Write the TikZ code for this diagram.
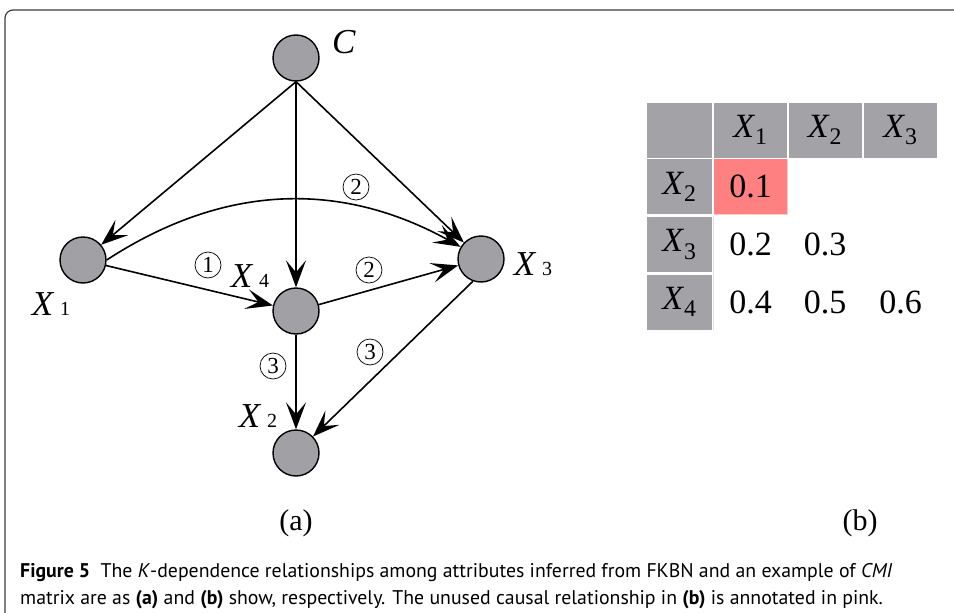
\documentclass[tikz,border=0pt]{standalone}
\usepackage{fontspec}
\setmainfont{Liberation Serif}
\newfontfamily\capfont{PT Sans}
\usepackage{xcolor}
\definecolor{nodegray}{RGB}{161,160,165}
\definecolor{tabgray}{RGB}{163,162,167}
\definecolor{cellpink}{RGB}{255,128,128}
\definecolor{framegray}{RGB}{60,60,60}
\usepackage{tikz}
\usetikzlibrary{
  arrows.meta,
  positioning
}
\tikzset{
  vnode/.style={circle, draw, line width=1.4pt, fill=nodegray,
    minimum size=46pt, inner sep=0pt},
  vlabel/.style={font=\fontsize{35}{38}\selectfont, inner sep=0pt},
  numcirc/.style={circle, draw, line width=0.7pt, minimum size=26pt,
    inner sep=0pt, font=\fontsize{23}{23}\selectfont},
  arr/.style={-{Stealth[length=27pt, width=20pt, inset=12pt]}, line width=1.6pt},
  headcell/.style={fill=tabgray, minimum height=55pt, inner sep=0pt,
    font=\fontsize{34}{38}\selectfont},
  valcell/.style={minimum height=55pt, minimum width=73pt, inner sep=0pt,
    font=\fontsize{34}{38}\selectfont},
}
\newcommand{\Xlab}[1]{\textit{X}\,{\fontsize{20}{22}\selectfont #1}}
\newcommand{\Xsub}[1]{\textit{X}\textsubscript{#1}}

\begin{document}
\begin{tikzpicture}[x=1pt, y=1pt]
  \useasboundingbox (0,0) rectangle (954,-613);
  % Frame
  \draw[line width=1.2pt, framegray, rounded corners=8pt]
    (5,-613) -- (5,-10) -- (954,-10);

  % Network (a)
  \node[vnode] (C)  at (296,-58)  {};
  \node[vnode] (X1) at (83,-260)  {};
  \node[vnode] (X3) at (481,-259) {};
  \node[vnode] (X4) at (296,-311) {};
  \node[vnode] (X2) at (296,-453) {};

  \node[vlabel] (lC)  at (344,-42)  {\textit{C}};
  \node[vlabel] (lX1) at (51,-304)  {\Xlab{1}};
  \node[vlabel] (lX3) at (533,-264) {\Xlab{3}};
  \node[vlabel] (lX4) at (250,-276) {\Xlab{4}};
  \node[vlabel] (lX2) at (258,-416) {\Xlab{2}};

  \foreach \t in {X1, X4, X3} {
    \draw[arr] (C.south) -- (\t);
  }
  \draw[arr] (X1.east) to[bend left=31] (X3);
  \draw[arr] (X1) -- (X4);
  \draw[arr] (X4) -- (X3);
  \draw[arr] (X4) -- (X2);
  \draw[arr] (X3.250) -- (X2);

  % Order of the edges
  \node[numcirc] (n1)  at (208,-265) {1};
  \node[numcirc] (n2a) at (356,-187) {2};
  \node[numcirc] (n2b) at (369,-270) {2};
  \node[numcirc] (n3a) at (273,-366) {3};
  \node[numcirc] (n3b) at (370,-352) {3};

  % CMI matrix (b)
  \node[headcell, minimum width=65pt] (h0) at (679.5,-130) {};
  \foreach \c/\x in {1/750.5, 2/825, 3/900.5} {
    \node[headcell, minimum width=73pt] (h\c) at (\x,-130) {\Xsub{\c}};
  }
  \foreach \r/\y/\k in {1/186.5/2, 2/244.5/3, 3/302/4} {
    \node[headcell, minimum width=65pt] (r\r) at (679.5,-\y) {\Xsub{\k}};
  }
  \node[valcell, fill=cellpink] (v11) at (750.5,-186.5) {0.1};
  \node[valcell] (v21) at (750.5,-244.5) {0.2};
  \node[valcell] (v22) at (825,-244.5)   {0.3};
  \node[valcell] (v31) at (750.5,-302)   {0.4};
  \node[valcell] (v32) at (825,-302)     {0.5};
  \node[valcell] (v33) at (900.5,-302)   {0.6};
  \draw[gray!25, line width=0.8pt] (v21.north west) -- (v31.south west);
  \draw[cellpink!40, line width=0.8pt] (v11.north east) -- (v11.south east) -- (v11.south west);

  % Sub-figure labels
  \node[font=\fontsize{30}{34}\selectfont] (la) at (296,-523) {(a)};
  \node[font=\fontsize{30}{34}\selectfont] (lb) at (860,-523) {(b)};

  % Caption
  \node[anchor=base west, align=left, inner sep=0pt,
        font=\capfont\fontsize{19.8}{27}\selectfont] (caption) at (20,-604) {%
    {\bfseries Figure 5}\ \ The \textit{K}-dependence relationships among attributes inferred from FKBN and an example of \textit{CMI}\\
    matrix are as {\bfseries (a)} and {\bfseries (b)} show, respectively. The unused causal relationship in {\bfseries (b)} is annotated in pink.};
\end{tikzpicture}
\end{document}
